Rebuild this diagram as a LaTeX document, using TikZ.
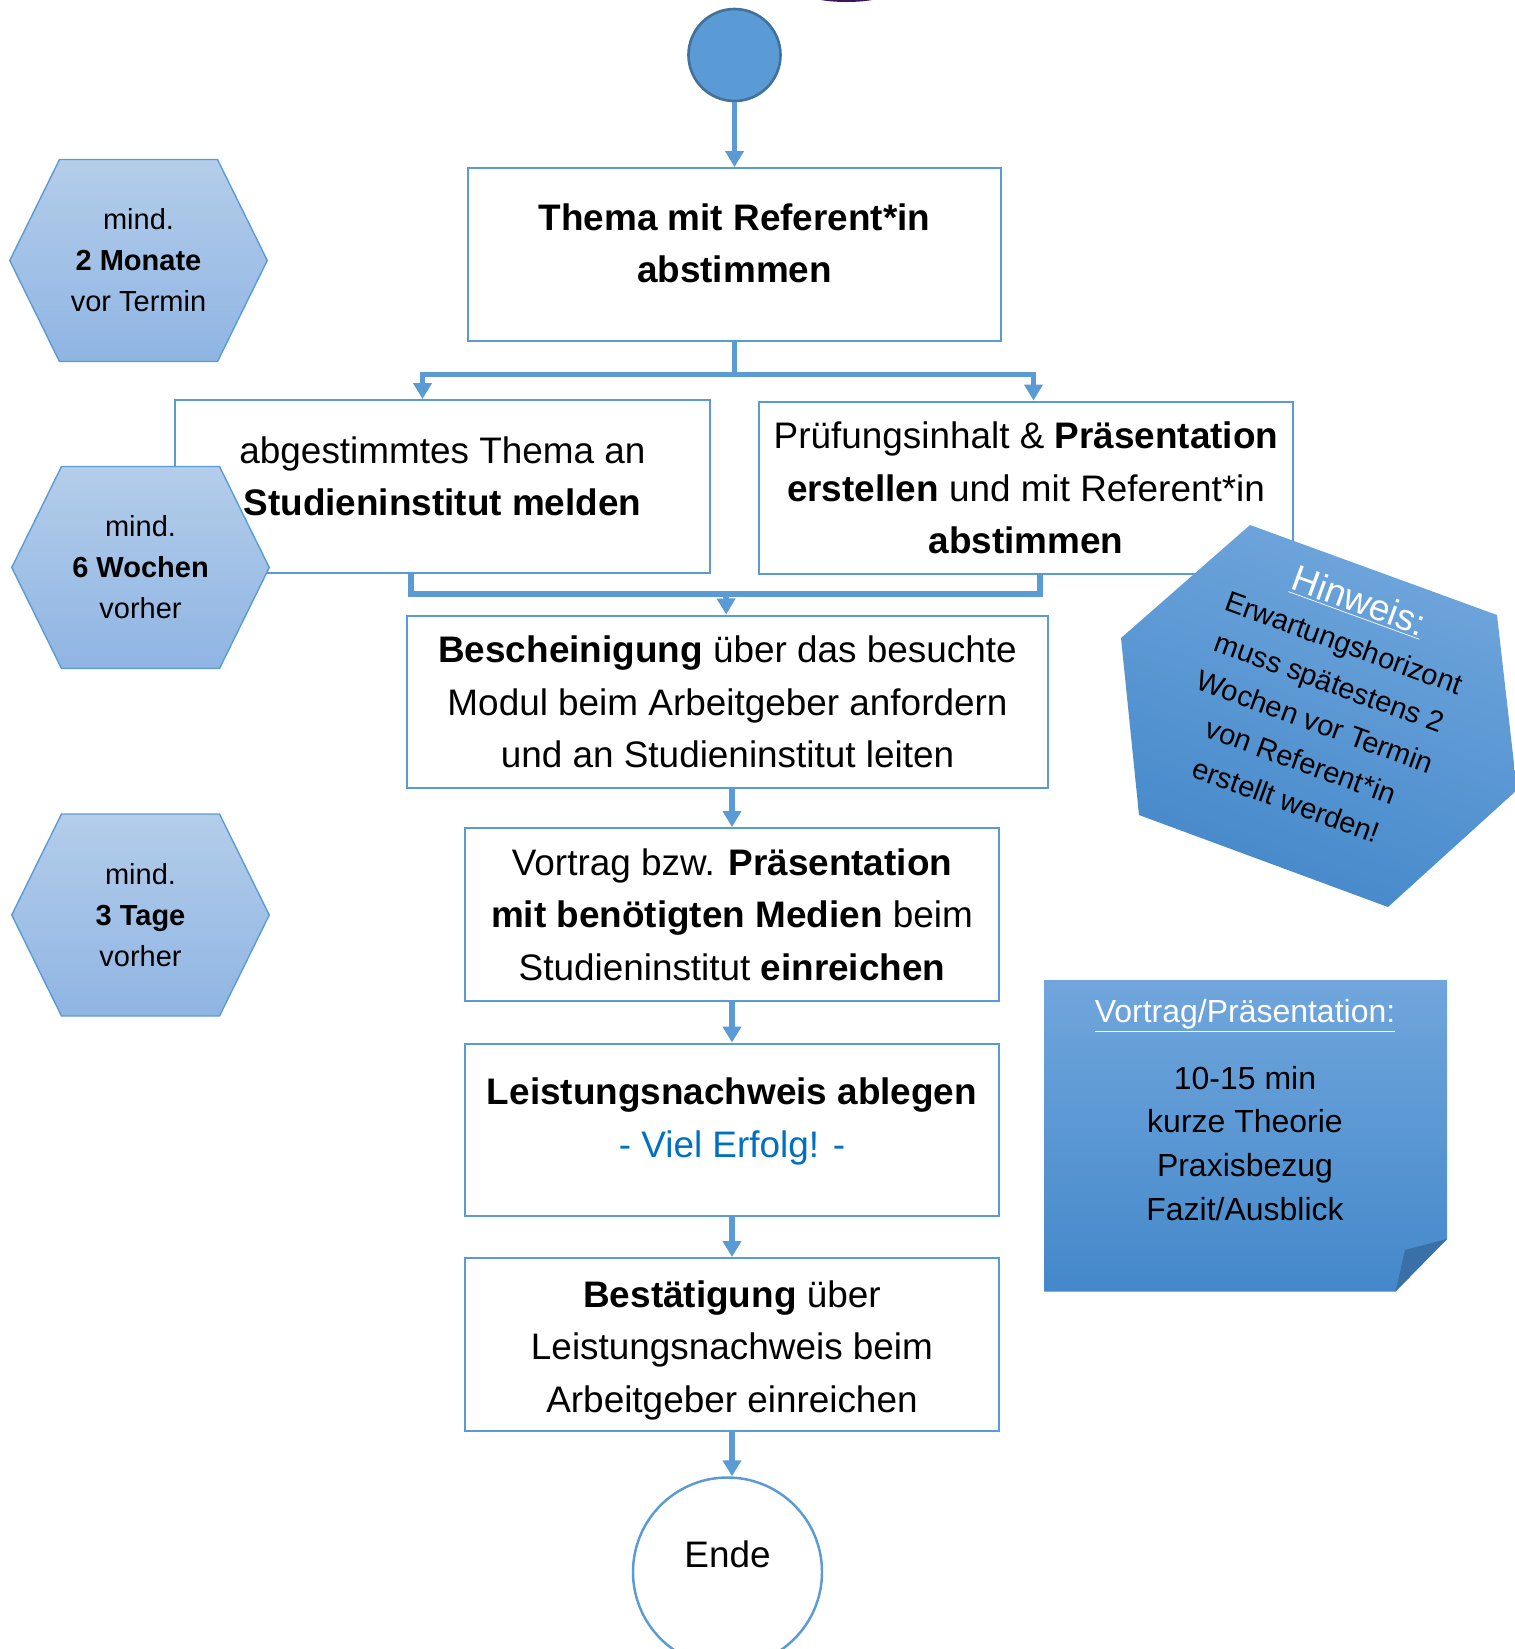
\documentclass[tikz,border=0pt]{standalone}
\usepackage{fontspec}
\setmainfont{Liberation Sans}
\usepackage{tikz}
\usetikzlibrary{arrows.meta, positioning}
\definecolor{flowblue}{RGB}{91, 155, 213}
\definecolor{circleedge}{RGB}{65, 113, 156}
\definecolor{hextop}{RGB}{180, 205, 234}
\definecolor{hexbottom}{RGB}{143, 181, 227}
\definecolor{notetop}{RGB}{112, 166, 220}
\definecolor{notebottom}{RGB}{68, 136, 202}
\definecolor{foldblue}{RGB}{58, 112, 168}
\definecolor{erfolgblue}{RGB}{0, 112, 192}
\definecolor{logopurple}{RGB}{60, 20, 90}

\begin{document}
\begin{tikzpicture}[
  box/.style={draw=flowblue, line width=1.4pt, fill=white, minimum width=10.68cm, minimum height=3.45cm, inner sep=2pt, align=center, font=\fontsize{21}{29.9}\selectfont},
  hexshape/.style={draw=flowblue, line width=0.8pt, top color=hextop, bottom color=hexbottom},
  hextext/.style={align=center, font=\fontsize{16.5}{23.3}\selectfont},
  link/.style={flowblue, line width=3.2pt},
  flow/.style={link, -{Triangle[width=0.36cm, length=0.32cm]}},
  notefill/.style={draw=none, top color=notetop, bottom color=notebottom}
]
  \useasboundingbox (0,0) rectangle (30.3,-32.98);
  \clip (0,0) rectangle (30.3,-32.98);

  % Top edge
  \fill[logopurple] (16.93,0.3) ellipse [x radius=1.1cm, y radius=0.34cm];

  % Start
  \node[circle, fill=flowblue, draw=circleedge, line width=1.5pt, minimum size=1.84cm] (start) at (14.69,-1.1) {};

  % Steps
  \node[box, minimum width=10.66cm] (thema) at (14.69,-5.09) {\textbf{Thema mit Referent*in}\\\textbf{abstimmen}\rule[-0.46cm]{0pt}{0pt}};
  \node[box, minimum width=10.7cm] (melden) at (8.85,-9.73) {abgestimmtes Thema an\\\textbf{Studieninstitut melden}\rule[-0.42cm]{0pt}{0pt}};
  \node[box] (erstellen) at (20.52,-9.76) {Prüfungsinhalt \& \textbf{Präsentation}\\\textbf{erstellen} und mit Referent*in\\\textbf{abstimmen}};
  \node[box, minimum width=12.82cm] (bescheinigung) at (14.55,-14.04) {\textbf{Bescheinigung} über das besuchte\\Modul beim Arbeitgeber anfordern\\und an Studieninstitut leiten};
  \node[box] (vortrag) at (14.64,-18.29) {Vortrag bzw. \textbf{Präsentation}\\\textbf{mit benötigten Medien} beim\\Studieninstitut \textbf{einreichen}};
  \node[box] (leistung) at (14.64,-22.6) {\textbf{Leistungsnachweis ablegen}\\\textcolor{erfolgblue}{- Viel Erfolg! -}\rule[-0.5cm]{0pt}{0pt}};
  \node[box] (bestaetigung) at (14.64,-26.89) {\rule{0pt}{0.77cm}\textbf{Bestätigung} über\\Leistungsnachweis beim\\Arbeitgeber einreichen};

  % End
  \node[circle, draw=flowblue, line width=1.4pt, fill=white, minimum size=3.78cm, font=\fontsize{21}{29.9}\selectfont, text height=0.53cm, text depth=0.71cm] (ende) at (14.55,-31.44) {Ende};

  % Connectors
  \coordinate (split) at (14.69,-7.49);
  \coordinate (merge) at (14.52,-11.88);
  \draw[flow] (start) -- (thema);
  \draw[link] (thema) -- (split);
  \draw[flow] (split) -| ([xshift=-0.4cm]melden.north);
  \draw[flow] (split) -| ([xshift=0.15cm]erstellen.north);
  \draw[link] ([xshift=-0.63cm]melden.south) |- (merge) -| ([xshift=0.28cm]erstellen.south);
  \draw[flow] (merge) -- (bescheinigung);
  \draw[flow] (bescheinigung.south -| vortrag.north) -- (vortrag.north);
  \draw[flow] (vortrag) -- (leistung);
  \draw[flow] (leistung) -- (bestaetigung);
  \draw[flow] (bestaetigung.south) -- (bestaetigung.south |- ende.north);

  % Deadlines
  \draw[hexshape, shift={(2.77,-5.21)}] (-2.575,0) -- (-1.58,2.02) -- (1.58,2.02) -- (2.575,0) -- (1.58,-2.02) -- (-1.58,-2.02) -- cycle;
  \node[hextext] (monate) at (2.77,-5.21) {mind.\\\textbf{2 Monate}\\vor Termin};
  \draw[hexshape, shift={(2.81,-11.35)}] (-2.575,0) -- (-1.58,2.02) -- (1.58,2.02) -- (2.575,0) -- (1.58,-2.02) -- (-1.58,-2.02) -- cycle;
  \node[hextext] (wochen) at (2.81,-11.35) {mind.\\\textbf{6 Wochen}\\vorher};
  \draw[hexshape, shift={(2.81,-18.3)}] (-2.575,0) -- (-1.58,2.02) -- (1.58,2.02) -- (2.575,0) -- (1.58,-2.02) -- (-1.58,-2.02) -- cycle;
  \node[hextext] (tage) at (2.81,-18.3) {mind.\\\textbf{3 Tage}\\vorher};

  % Hinweis
  \draw[notefill, shading angle=-20] (25.0,-10.5) -- (29.94,-12.3) -- (30.34,-15.8) -- (27.76,-18.14) -- (22.78,-16.3) -- (22.42,-12.76) -- cycle;
  \node[rotate=-20, align=center, font=\fontsize{16.5}{23.9}\selectfont] (hinweis) at (26.47,-13.98) {{\fontsize{21}{27}\selectfont\textcolor{white}{\underline{Hinweis:}}}\\Erwartungshorizont\\muss spätestens 2\\Wochen vor Termin\\von Referent*in\\erstellt werden!};

  % Vortrag note
  \draw[notefill] (20.88,-19.6) -- (28.94,-19.6) -- (28.94,-24.78) -- (27.91,-25.83) -- (20.88,-25.83) -- cycle;
  \fill[foldblue] (28.1,-25.0) -- (28.94,-24.78) -- (27.91,-25.83) -- cycle;
  \node[align=center, font=\fontsize{18.2}{25}\selectfont] (ablauf) at (24.9,-22.2) {\textcolor{white}{\underline{Vortrag/Präsentation:}}\\[0.46cm]10-15 min\\kurze Theorie\\Praxisbezug\\Fazit/Ausblick};
\end{tikzpicture}
\end{document}
